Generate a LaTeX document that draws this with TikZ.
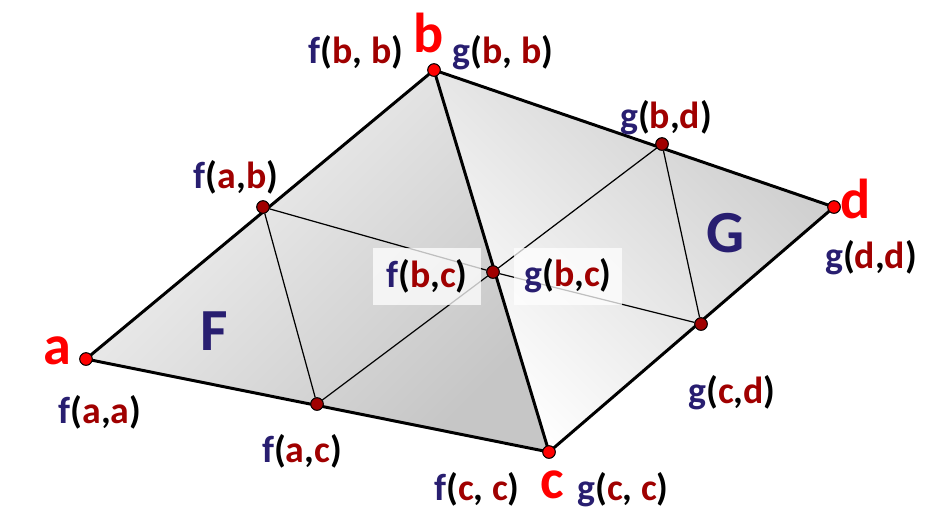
\documentclass[tikz,border=0pt]{standalone}
\usepackage{fontspec}
\setmainfont{Carlito}
\definecolor{navy}{RGB}{40,30,112}
\definecolor{dred}{RGB}{160,0,0}
\definecolor{vred}{RGB}{255,0,0}
\newcommand\fg[4][]{\textcolor{navy}{#2}(\textcolor{dred}{#3},#1\textcolor{dred}{#4})}
\tikzset{
 vx/.style={circle,draw=black,line width=0.5pt,fill=vred,inner sep=0pt,minimum size=0.25cm},
 mx/.style={circle,draw=black,line width=0.5pt,fill=dred,inner sep=0pt,minimum size=0.25cm},
 rim/.style={line width=1.7pt,line join=round},
 fine/.style={line width=0.7pt},
 vl/.style={text=vred,font=\bfseries\fontsize{32}{34}\selectfont,inner sep=0pt,anchor=base},
 fl/.style={font=\bfseries\fontsize{21.5}{24}\selectfont,inner sep=0pt,anchor=base},
 rl/.style={text=navy,font=\bfseries\fontsize{34}{36}\selectfont,inner sep=0pt,anchor=base},
 bx/.style={fl,anchor=center,fill=white,fill opacity=0.75,text opacity=1,
  minimum width=2.18cm,minimum height=1.14cm}}
\begin{document}
\begin{tikzpicture}[x=0.02cm,y=-0.02cm]
 \useasboundingbox (0,0) rectangle (939,529);
 % shaded faces
 \shade[top color=gray!8,bottom color=gray!45,shading angle=45] (86,359) -- (434,70) -- (549,452) -- cycle;
 \shade[top color=gray!40,bottom color=white,shading angle=-45] (434,70) -- (834,207) -- (549,452) -- cycle;
 % points
 \node[vx] (a) at (86,359) {};
 \node[vx] (b) at (434,70) {};
 \node[vx] (c) at (549,452) {};
 \node[vx] (d) at (834,207) {};
 \node[mx] (ab) at (263,207) {};
 \node[mx] (ac) at (317,404) {};
 \node[mx] (bc) at (493,272) {};
 \node[mx] (bd) at (662,144) {};
 \node[mx] (cd) at (701,324) {};
 % inner lines
 \draw[fine] (ab)--(bc) (ab)--(ac) (ac)--(bc) (bc)--(bd) (bd)--(cd) (bc)--(cd);
 % boxed labels
 \node[bx] (fbc) at (427,276) {\fg{f}{b}{c}};
 \node[bx] (gbc) at (568,276) {\fg{g}{b}{c}};
 % outline
 \draw[rim] (a.center)--(b.center)--(d.center)--(c.center)--cycle (b.center)--(c.center);
 \foreach \p in {a,b,c,d} \node[vx] at (\p) {};
 \foreach \p in {ab,ac,bc,bd,cd} \node[mx] at (\p) {};
 % labels
 \node[vl] (la) at (57,364) {a};
 \node[vl] (lb) at (429,52) {b};
 \node[vl] (lc) at (552,498) {c};
 \node[vl] (ld) at (856,218) {d};
 \node[rl] (lF) at (214,350) {F};
 \node[rl] (lG) at (726,252) {G};
 \node[fl] (faa) at (100,423) {\fg{f}{a}{a}};
 \node[fl] (fab) at (236,188) {\fg{f}{a}{b}};
 \node[fl] (fbb) at (356,63) {\fg[~]{f}{b}{b}};
 \node[fl] (gbb) at (503,63) {\fg[~]{g}{b}{b}};
 \node[fl] (gbd) at (666,128) {\fg{g}{b}{d}};
 \node[fl] (gdd) at (871,268) {\fg{g}{d}{d}};
 \node[fl] (gcd) at (732,403) {\fg{g}{c}{d}};
 \node[fl] (gcc) at (623,500) {\fg[~]{g}{c}{c}};
 \node[fl] (fcc) at (477,500) {\fg[~]{f}{c}{c}};
 \node[fl] (fac) at (302,462) {\fg{f}{a}{c}};
\end{tikzpicture}
\end{document}
